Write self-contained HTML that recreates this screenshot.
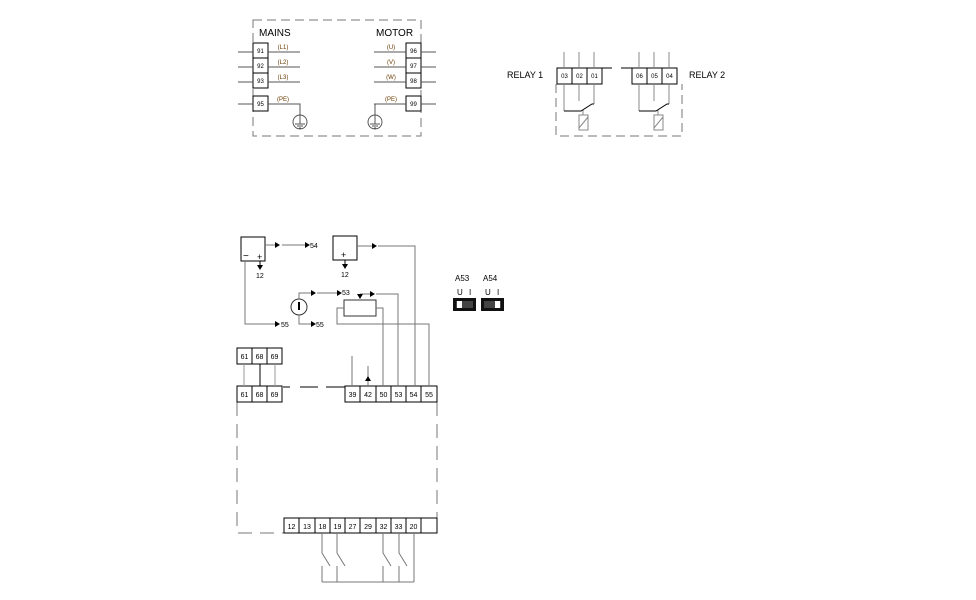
<!DOCTYPE html>
<html><head><meta charset="utf-8"><style>
html,body{margin:0;padding:0;background:#fff;}
svg{display:block;font-family:"Liberation Sans",Arial,sans-serif;}
</style></head><body>
<svg width="976" height="600" viewBox="0 0 976 600" xmlns="http://www.w3.org/2000/svg">
<defs>
<marker id="ar" markerWidth="6" markerHeight="6" refX="5" refY="3" orient="auto" markerUnits="userSpaceOnUse"><path d="M0,0 L6,3 L0,6 z" fill="#000"/></marker>
</defs>
<g fill="none" stroke="#000" stroke-width="1">
<!-- MAINS / MOTOR dashed box -->
<path d="M253,20 H421 V136 H253 Z" stroke="#777" stroke-dasharray="9,5"/>
<g fill="#fff">
<rect x="253" y="43" width="15" height="15"/><rect x="253" y="58" width="15" height="15"/><rect x="253" y="73" width="15" height="15"/><rect x="253" y="96" width="15" height="15"/>
<rect x="406" y="43" width="15" height="15"/><rect x="406" y="58" width="15" height="15"/><rect x="406" y="73" width="15" height="15"/><rect x="406" y="96" width="15" height="15"/>
</g>
<g stroke="#555">
<path d="M238,52H253 M268,52H300 M238,67H253 M268,67H300 M238,82H253 M268,82H300 M238,104H253 M268,104H300 V115"/>
<path d="M421,52H436 M374,52H406 M421,67H436 M374,67H406 M421,82H436 M374,82H406 M421,104H436 M374,104H406 M375,104V115"/>
<circle cx="300" cy="122" r="7"/><circle cx="375" cy="122" r="7"/>
<path d="M300,115V124 M295,124H305 M297,126H303 M299,128H301"/>
<path d="M375,115V124 M370,124H380 M372,126H378 M374,128H376"/>
</g>
<!-- Relays -->
<path d="M556,84 V136 H682 V84" stroke="#777" stroke-dasharray="9,5"/>
<path d="M557,68H612 M621,68H677" />
<g fill="#fff"><rect x="557" y="68" width="15" height="16"/><rect x="572" y="68" width="15" height="16"/><rect x="587" y="68" width="15" height="16"/>
<rect x="632" y="68" width="15" height="16"/><rect x="647" y="68" width="15" height="16"/><rect x="662" y="68" width="15" height="16"/></g>
<g stroke="#888"><path d="M564,52V68 M579,52V68 M594,52V68 M639,52V68 M654,52V68 M669,52V68 M564,84V111 M579,84V101 M594,84V104 M639,84V111 M654,84V101 M669,84V104"/>
<rect x="579" y="115" width="9" height="15"/><path d="M579,128 L588,117"/>
<rect x="654" y="115" width="9" height="15"/><path d="M654,128 L663,117"/>
<path d="M583,110V115 M658,110V115"/></g>
<path d="M564,111H581 L592,104H594 M639,111H656 L667,104H669"/>
<!-- bottom unit -->
<path d="M237,402 V533 H284 M437,402 V533" stroke="#777" stroke-dasharray="14,8"/>
<path d="M283,387H290 M300,387H318 M326,387H345" stroke-dasharray="none"/>
<g fill="#fff">
<rect x="237" y="348" width="15" height="16"/><rect x="252" y="348" width="15" height="16"/><rect x="267" y="348" width="15" height="16"/>
<rect x="237" y="386" width="15" height="16"/><rect x="252" y="386" width="15" height="16"/><rect x="267" y="386" width="15" height="16"/>
<rect x="345" y="386" width="15" height="16"/><rect x="360" y="386" width="16" height="16"/><rect x="376" y="386" width="15" height="16"/><rect x="391" y="386" width="15" height="16"/><rect x="406" y="386" width="15" height="16"/><rect x="421" y="386" width="16" height="16"/>
<rect x="284" y="518" width="15" height="15"/><rect x="299" y="518" width="16" height="15"/><rect x="315" y="518" width="15" height="15"/><rect x="330" y="518" width="15" height="15"/><rect x="345" y="518" width="15" height="15"/><rect x="360" y="518" width="16" height="15"/><rect x="376" y="518" width="15" height="15"/><rect x="391" y="518" width="15" height="15"/><rect x="406" y="518" width="15" height="15"/><rect x="421" y="518" width="16" height="15"/>
</g>
<g stroke="#999"><path d="M244,364V386 M275,364V386"/></g>
<path d="M260,364V386"/>
<!-- switches -->
<g stroke="#777"><path d="M322,533V553 L330,566 M322,566V582 M337,533V553 L345,566 M337,566V582 M383,533V553 L391,566 M383,566V582 M399,533V553 L407,566 M399,566V582 M414,533V582 M322,582H414"/></g>
<!-- upper part -->
<rect x="241" y="237" width="24" height="24"/>
<rect x="333" y="236" width="24" height="24"/>
<g stroke="#777">
<path d="M265,245H275 M282,245H305" /><path d="M245,261V324H275"/>
<path d="M357,246H372 M378,246H415V386"/>
<circle cx="299" cy="307" r="8" stroke="#333"/>
<path d="M299,299V293H311 M317,293H337 M299,315V324H311"/>
<rect x="344" y="300" width="32" height="16" stroke="#333"/>
<path d="M360,294H370 M376,294H398V386 M376,308H383V386 M344,308H337V324H429V386 M352,356V386 M368,366V386"/>
</g>
<path d="M299,302V310" stroke-width="2"/>
</g>
<g fill="#000" stroke="none">
<path d="M275,242 l5,3 l-5,3z"/><path d="M305,242 l5,3 l-5,3z"/><path d="M275,321 l5,3 l-5,3z"/>
<path d="M372,243 l5,3 l-5,3z"/><path d="M311,290 l5,3 l-5,3z"/><path d="M337,290 l5,3 l-5,3z"/><path d="M311,321 l5,3 l-5,3z"/>
<path d="M370,291 l5,3 l-5,3z"/><path d="M357,294 l6,0 l-3,5z"/><path d="M365,381 l3,-5 l3,5z"/>
<path d="M257,265 l3,5 l3,-5z"/><path d="M342,264 l3,5 l3,-5z"/>
<path d="M260,261V266" stroke="#000"/><path d="M345,260V265" stroke="#000"/>
</g>
<path d="M260,261V266 M345,260V265" stroke="#000"/>
<g font-size="9" fill="#000">
<text x="259" y="36" font-size="10">MAINS</text><text x="376" y="36" font-size="10">MOTOR</text>
<text x="507" y="78">RELAY 1</text><text x="689" y="78">RELAY 2</text>
<text x="310" y="248" font-size="7">54</text><text x="256" y="278" font-size="7">12</text><text x="281" y="327" font-size="7">55</text>
<text x="341" y="277" font-size="7">12</text><text x="342" y="295" font-size="7">53</text><text x="316" y="327" font-size="7">55</text>
<text x="243" y="259" font-size="10">−</text><text x="257" y="260" font-size="9">+</text><text x="341" y="258" font-size="9">+</text>
<text x="455" y="281" font-size="8">A53</text><text x="483" y="281" font-size="8">A54</text>
<text x="457" y="295" font-size="8">U</text><text x="469" y="295" font-size="8">I</text>
<text x="485" y="295" font-size="8">U</text><text x="497" y="295" font-size="8">I</text>
</g>
<rect x="453" y="298" width="23" height="13" fill="#111"/><rect x="456" y="301" width="17" height="7" fill="#444"/><rect x="457" y="301" width="5" height="7" fill="#fff"/>
<rect x="481" y="298" width="23" height="13" fill="#111"/><rect x="484" y="301" width="17" height="7" fill="#444"/><rect x="495" y="301" width="5" height="7" fill="#fff"/>
<g font-size="6" fill="#000" text-anchor="middle">
<text x="260.5" y="53">91</text><text x="260.5" y="68">92</text><text x="260.5" y="83">93</text><text x="260.5" y="106">95</text>
<text x="413.5" y="53">96</text><text x="413.5" y="68">97</text><text x="413.5" y="83">98</text><text x="413.5" y="106">99</text>
<text x="564.5" y="78">03</text><text x="579.5" y="78">02</text><text x="594.5" y="78">01</text>
<text x="639.5" y="78">06</text><text x="654.5" y="78">05</text><text x="669.5" y="78">04</text>
<g font-size="7">
<text x="244.5" y="359">61</text><text x="259.5" y="359">68</text><text x="274.5" y="359">69</text>
<text x="244.5" y="397">61</text><text x="259.5" y="397">68</text><text x="274.5" y="397">69</text>
<text x="352.5" y="397">39</text><text x="368" y="397">42</text><text x="383.5" y="397">50</text><text x="398.5" y="397">53</text><text x="413.5" y="397">54</text><text x="429" y="397">55</text>
<text x="291.5" y="529">12</text><text x="307" y="529">13</text><text x="322.5" y="529">18</text><text x="337.5" y="529">19</text><text x="352.5" y="529">27</text><text x="368" y="529">29</text><text x="383.5" y="529">32</text><text x="398.5" y="529">33</text><text x="413.5" y="529">20</text>
</g>
</g>
<g font-size="6" fill="#6a3a00" text-anchor="middle">
<text x="283" y="49">(L1)</text><text x="283" y="64">(L2)</text><text x="283" y="79">(L3)</text><text x="283" y="101">(PE)</text>
<text x="391" y="49">(U)</text><text x="391" y="64">(V)</text><text x="391" y="79">(W)</text><text x="391" y="101">(PE)</text>
</g>
</svg>
</body></html>
